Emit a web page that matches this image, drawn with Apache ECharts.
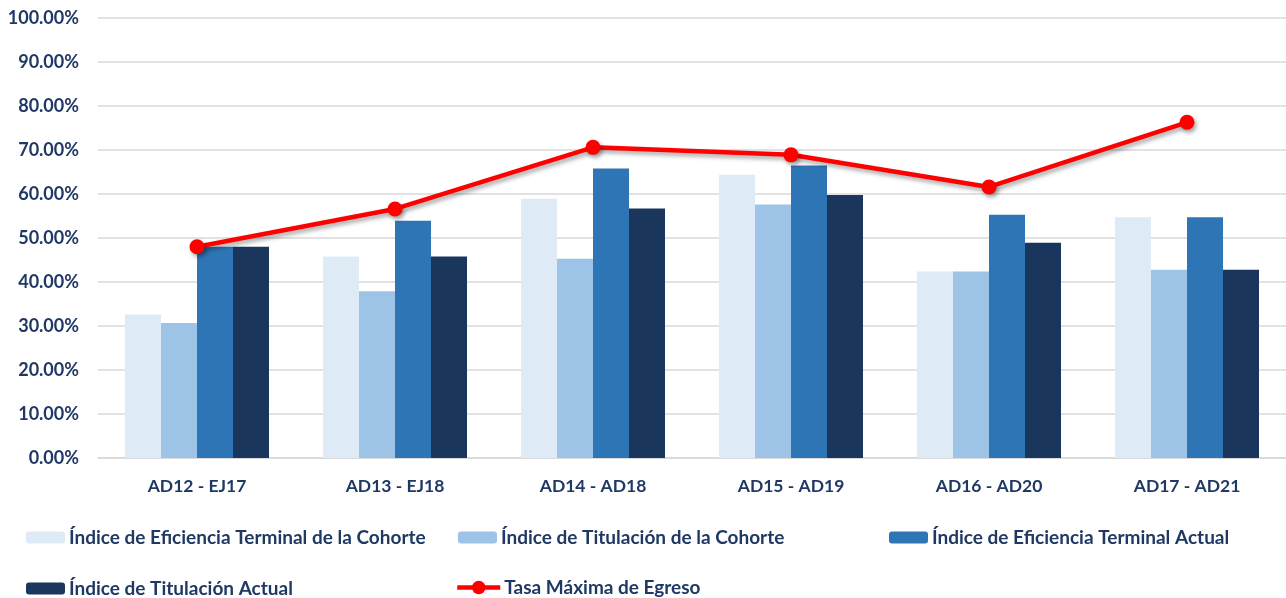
<!DOCTYPE html>
<html>
<head>
<meta charset="utf-8">
<script src="https://cdn.jsdelivr.net/npm/echarts@6/dist/echarts.min.js"></script>
<style>
  html, body { margin: 0; padding: 0; background: #fff; }
  #chart { width: 1286px; height: 598px; }
</style>
</head>
<body>
<div id="chart"></div>
<script>
var categories = ["AD12 - EJ17", "AD13 - EJ18", "AD14 - AD18", "AD15 - AD19", "AD16 - AD20", "AD17 - AD21"];

// valores en porcentaje
var eficienciaCohorte = [32.6, 45.8, 58.9, 64.4, 42.4, 54.7];
var titulacionCohorte = [30.7, 37.9, 45.3, 57.6, 42.4, 42.8];
var eficienciaActual = [48.0, 53.9, 65.8, 66.5, 55.3, 54.7];
var titulacionActual = [48.0, 45.8, 56.7, 59.8, 48.9, 42.8];
var tasaMaxima = [48.0, 56.6, 70.6, 68.9, 61.6, 76.3];

var names = [
  "Índice de Eficiencia Terminal de la Cohorte",
  "Índice de Titulación de la Cohorte",
  "Índice de Eficiencia Terminal Actual",
  "Índice de Titulación Actual",
  "Tasa Máxima de Egreso"
];

var textColor = "#1f3864";
var font = "Lato";

function legendAt(name, left, top, w, h) {
  return {
    data: [name],
    left: left,
    top: top,
    padding: 0,
    itemWidth: w,
    itemHeight: h,
    itemGap: 0,
    lineStyle: { width: 4.5 },
    textStyle: { color: textColor, fontFamily: font, fontWeight: "bold", fontSize: 19, padding: [0, 0, 0, -1] }
  };
}

var myChart = echarts.init(document.getElementById("chart"));

var option = {
  animation: false,
  backgroundColor: "#fff",
  grid: { left: 98, right: 0, top: 18, bottom: 140 },
  legend: [
    legendAt(names[0], 26, 528, 39, 12),
    legendAt(names[1], 458, 528, 39, 12),
    legendAt(names[2], 889, 528, 39, 12),
    legendAt(names[3], 26, 579, 39, 12),
    legendAt(names[4], 455, 578, 43, 17)
  ],
  xAxis: {
    type: "category",
    data: categories,
    axisTick: { show: false },
    axisLine: { lineStyle: { color: "#d9d9d9", width: 1.5 } },
    axisLabel: { color: textColor, fontFamily: font, fontWeight: "bold", fontSize: 17.5, margin: 19 }
  },
  yAxis: {
    type: "value",
    min: 0,
    max: 100,
    interval: 10,
    axisLine: { show: false },
    axisTick: { show: false },
    splitLine: { lineStyle: { color: "#d9d9d9", width: 1.5 } },
    axisLabel: {
      color: textColor, fontFamily: font, fontWeight: "bold", fontSize: 18, margin: 19,
      formatter: function (v) { return v.toFixed(2) + "%"; }
    }
  },
  series: [
    { name: names[0], type: "bar", data: eficienciaCohorte, barWidth: 36, barGap: "0%", itemStyle: { color: "#deebf7" } },
    { name: names[1], type: "bar", data: titulacionCohorte, barWidth: 36, barGap: "0%", itemStyle: { color: "#9dc3e6" } },
    { name: names[2], type: "bar", data: eficienciaActual, barWidth: 36, barGap: "0%", itemStyle: { color: "#2e75b6" } },
    { name: names[3], type: "bar", data: titulacionActual, barWidth: 36, barGap: "0%", itemStyle: { color: "#1b365d" } },
    {
      name: names[4], type: "line", data: tasaMaxima,
      symbol: "circle", symbolSize: 15,
      itemStyle: { color: "#ff0000", shadowColor: "rgba(0,0,0,0.35)", shadowBlur: 4, shadowOffsetX: 2, shadowOffsetY: 3 },
      lineStyle: { color: "#ff0000", width: 4.5, shadowColor: "rgba(0,0,0,0.35)", shadowBlur: 4, shadowOffsetX: 2, shadowOffsetY: 3 },
      z: 5
    }
  ]
};

myChart.setOption(option);
</script>
</body>
</html>
